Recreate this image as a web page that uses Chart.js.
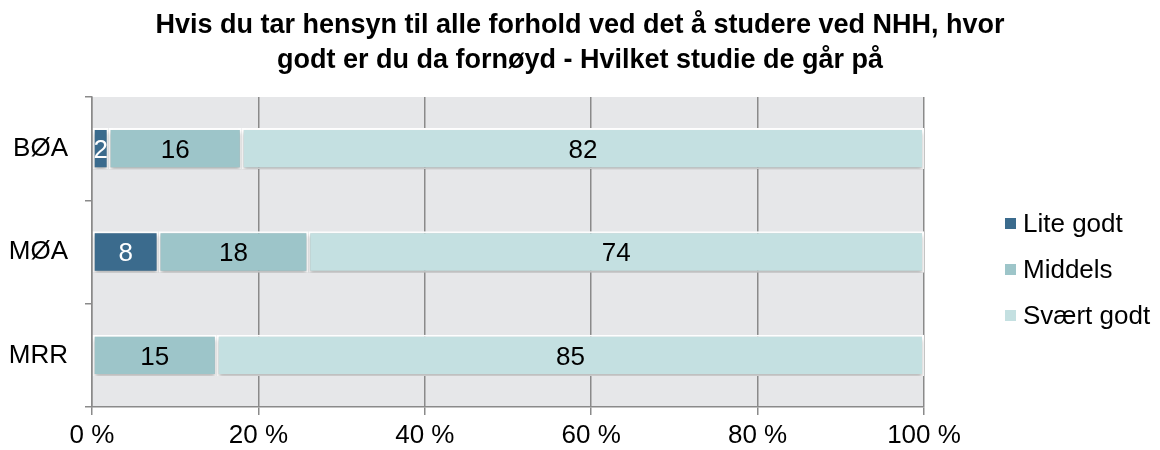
<!DOCTYPE html>
<html lang="no">
<head>
    <meta charset="UTF-8">
    <title>Fornøydhet - studie ved NHH</title>
    <style>
        html, body { margin: 0; padding: 0; background: #fff; }
        .wrap { width: 1160px; height: 450px; }
    </style>
</head>
<body>
    <div class="wrap"><canvas id="chart" width="1160" height="450"></canvas></div>

    <script src="https://cdn.jsdelivr.net/npm/chart.js"></script>
    <script>
        const studies = ['BØA', 'MØA', 'MRR'];
        const liteGodt = [2, 8, 0];
        const middels = [16, 18, 15];
        const svaertGodt = [82, 74, 85];
        const xTicks = [0, 20, 40, 60, 80, 100];
        const titleLines = [
            'Hvis du tar hensyn til alle forhold ved det å studere ved NHH, hvor',
            'godt er du da fornøyd - Hvilket studie de går på'
        ];

        const FONT = '"Liberation Sans", Arial, sans-serif';

        // grey plot background + shadow under bars
        const plotBg = {
            id: 'plotBg',
            beforeDraw(chart) {
                const { ctx, chartArea: a } = chart;
                ctx.save();
                ctx.fillStyle = '#e6e7e9';
                ctx.fillRect(a.left, a.top, a.right - a.left, a.bottom - a.top);
                ctx.restore();
            },
            beforeDatasetsDraw(chart) {
                const ctx = chart.ctx;
                ctx.save();
                ctx.shadowColor = 'rgba(0,0,0,0.28)';
                ctx.shadowBlur = 4;
                ctx.shadowOffsetY = 3;
            },
            afterDatasetsDraw(chart) {
                chart.ctx.restore();
            }
        };

        // value labels in the middle of each segment
        const valueLabels = {
            id: 'valueLabels',
            afterDatasetsDraw(chart) {
                const ctx = chart.ctx;
                ctx.save();
                ctx.font = '26px ' + FONT;
                ctx.textAlign = 'center';
                ctx.textBaseline = 'middle';
                chart.data.datasets.forEach((ds, i) => {
                    const meta = chart.getDatasetMeta(i);
                    meta.data.forEach((bar, j) => {
                        const v = ds.data[j];
                        if (!v) return;
                        const x = (bar.x + bar.base) / 2;
                        ctx.fillStyle = ds.labelColor;
                        ctx.fillText(String(v), x, bar.y + 2);
                    });
                });
                ctx.restore();
            }
        };

        // title and legend drawn around the plot
        const decorations = {
            id: 'decorations',
            afterDraw(chart) {
                const ctx = chart.ctx;
                ctx.save();
                ctx.fillStyle = '#000';
                ctx.textAlign = 'center';
                ctx.textBaseline = 'alphabetic';
                ctx.font = 'bold 27px ' + FONT;
                titleLines.forEach((line, i) => ctx.fillText(line, 580, 33 + i * 35));

                ctx.textAlign = 'left';
                ctx.textBaseline = 'middle';
                ctx.font = '26px ' + FONT;
                chart.data.datasets.forEach((ds, i) => {
                    const y = 223.5 + i * 46;
                    ctx.fillStyle = ds.backgroundColor;
                    ctx.fillRect(1005, y - 5.5, 11, 11);
                    ctx.fillStyle = '#000';
                    ctx.fillText(ds.label, 1023, y + 1);
                });
                ctx.restore();
            }
        };

        new Chart(document.getElementById('chart'), {
            type: 'bar',
            data: {
                labels: studies,
                datasets: [
                    { label: 'Lite godt', data: liteGodt, backgroundColor: '#3b6b8d', labelColor: '#ffffff' },
                    { label: 'Middels', data: middels, backgroundColor: '#9dc5c9', labelColor: '#000000' },
                    { label: 'Svært godt', data: svaertGodt, backgroundColor: '#c4e0e1', labelColor: '#000000' }
                ].map(d => Object.assign(d, {
                    borderColor: '#ffffff',
                    borderWidth: 2,
                    borderSkipped: false,
                    barPercentage: 0.4,
                    categoryPercentage: 1
                }))
            },
            options: {
                indexAxis: 'y',
                responsive: false,
                animation: false,
                layout: { padding: { left: 0, right: 236, top: 97, bottom: 0 } },
                plugins: {
                    legend: { display: false },
                    tooltip: { enabled: false },
                    title: { display: false }
                },
                scales: {
                    x: {
                        stacked: true,
                        min: 0,
                        max: 100,
                        afterBuildTicks: s => { s.ticks = xTicks.map(v => ({ value: v })); },
                        afterFit: s => { s.height = 43; },
                        border: { color: '#8a8a8a', width: 1.5 },
                        grid: { color: '#8a8a8a', lineWidth: 1.5, tickLength: 8, drawTicks: true },
                        ticks: {
                            color: '#000',
                            padding: 5,
                            maxRotation: 0,
                            autoSkip: false,
                            font: { family: FONT, size: 26 },
                            callback: v => v + ' %'
                        }
                    },
                    y: {
                        stacked: true,
                        afterFit: s => { s.width = 92; },
                        border: { color: '#8a8a8a', width: 1.5 },
                        grid: { drawOnChartArea: false, color: '#8a8a8a', lineWidth: 1.5, tickLength: 7, offset: true },
                        ticks: {
                            color: '#000',
                            padding: 17,
                            font: { family: FONT, size: 26 }
                        }
                    }
                }
            },
            plugins: [plotBg, valueLabels, decorations]
        });
    </script>
</body>
</html>
